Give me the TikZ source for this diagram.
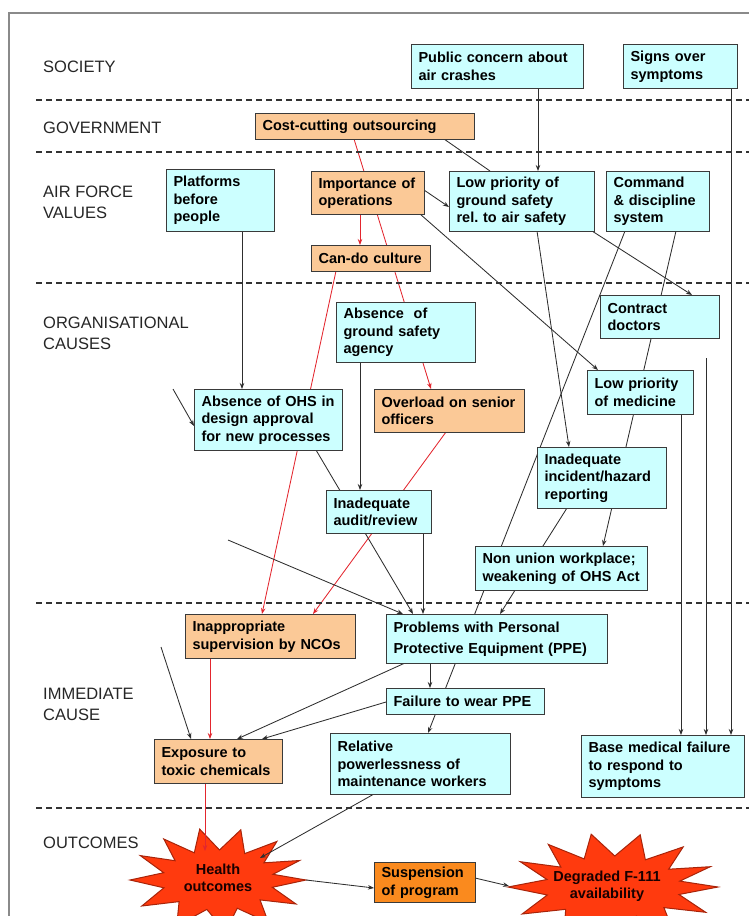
\documentclass[tikz,border=0pt]{standalone}
\usepackage{fontspec}
\setmainfont{Liberation Sans}
\usetikzlibrary{arrows.meta}

\definecolor{cyanfill}{HTML}{CCFFFF}
\definecolor{peach}{HTML}{FBC997}
\definecolor{susporange}{HTML}{FA8A1E}
\definecolor{burst}{HTML}{FF3A0E}
\definecolor{burstline}{HTML}{A8240A}
\definecolor{boxline}{HTML}{3A3A3A}
\definecolor{linkgray}{HTML}{2E2E2E}
\definecolor{linkred}{HTML}{E3262E}
\definecolor{framegray}{HTML}{8A8A8A}

\pgfdeclarelayer{back}
\pgfsetlayers{back,main}

\newcommand\fbfont{\fontsize{14.5}{17.5}\selectfont\bfseries}

% box from its top-left (#3,#4) to bottom-right (#5,#6) corner, in pixels
\newcommand\flowbox[7]{%
  \pgfmathsetmacro\fbw{#5-#3-14}%
  \pgfmathsetmacro\fbh{#6-#4}%
  \node[#2, text width=\fbw pt, minimum height=\fbh pt] (#1) at (#3,#4) {#7};}

\tikzset{
  cbox/.style={draw=boxline, line width=1.1pt, fill=cyanfill, anchor=north west,
    align=left, inner xsep=7pt, inner ysep=1pt, font=\fbfont},
  obox/.style={cbox, fill=peach},
  sbox/.style={cbox, fill=susporange},
  lanelabel/.style={anchor=west, align=left, inner sep=0pt,
    font=\fontsize{16.5}{21}\selectfont, text=black!85},
  sep/.style={draw=black!80, line width=1.3pt, dash pattern=on 6pt off 4pt},
  link/.style={draw=linkgray, line width=0.85pt, -{Stealth[length=6pt,width=4.5pt]}},
  plainlink/.style={draw=linkgray, line width=0.85pt},
  redlink/.style={link, draw=linkred},
  burstshape/.style={fill=burst, draw=burstline, line width=1pt, line join=miter},
  bursttext/.style={align=center, font=\fbfont, text=black!90!red, inner sep=1pt},
}

\begin{document}
\begin{tikzpicture}[x=1pt, y=-1pt]
\useasboundingbox (0,0) rectangle (749,916);
\clip (0,0) rectangle (749,916);

% outer frame
\draw[framegray, line width=1.6pt] (9,930) -- (9,13) -- (760,13);

% lane separators
\foreach \yy in {100,152,283,603,808}
  \draw[sep] (36,\yy) -- (749,\yy);

% lane labels
\node[lanelabel] (lsoc) at (43,67) {SOCIETY};
\node[lanelabel] (lgov) at (43,128) {GOVERNMENT};
\node[lanelabel] (laf) at (43,202) {AIR FORCE\\VALUES};
\node[lanelabel] (lorg) at (43,333) {ORGANISATIONAL\\CAUSES};
\node[lanelabel] (limm) at (43,704) {IMMEDIATE\\CAUSE};
\node[lanelabel] (lout) at (43,843) {OUTCOMES};

% boxes
\flowbox{public}{cbox}{411}{44}{583}{88}{Public concern about\\air crashes}
\flowbox{signs}{cbox}{623}{44}{737}{88}{Signs over\\symptoms}
\flowbox{cost}{obox}{255}{113}{474}{139}{Cost-cutting outsourcing}
\flowbox{platforms}{cbox}{166}{169}{274}{231}{Platforms\\before\\people}
\flowbox{importance}{obox}{311}{171}{424}{214}{Importance of\\operations}
\flowbox{lowgs}{cbox}{449}{171}{594}{231}{Low priority of\\ground safety\\rel.\ to air safety}
\flowbox{command}{cbox}{606}{171}{709}{231}{Command\\\& discipline\\system}
\flowbox{cando}{obox}{311}{245}{430}{271}{Can-do culture}
\flowbox{contract}{cbox}{600}{295}{719}{338}{Contract\\doctors}
\flowbox{agency}{cbox}{336}{302}{475}{362}{Absence\ \ of\\ground safety\\agency}
\flowbox{medicine}{cbox}{587}{370}{693}{414}{Low priority\\of medicine}
\flowbox{ohs}{cbox}{194}{389}{342}{450}{Absence of OHS in\\design approval\\for new processes}
\flowbox{overload}{obox}{374}{389}{524}{432}{Overload on senior\\officers}
\flowbox{incident}{cbox}{537}{447}{666}{508}{Inadequate\\incident/hazard\\reporting}
\flowbox{audit}{cbox}{326}{490}{431}{533}{Inadequate\\audit/review}
\flowbox{nonunion}{cbox}{475}{546}{647}{590}{Non union workplace;\\weakening of OHS Act}
\flowbox{inapp}{obox}{185}{614}{355}{658}{Inappropriate\\supervision by NCOs}
\flowbox{ppe}{cbox}{386}{614}{607}{663}{Problems with Personal\\[3pt]Protective Equipment (PPE)}
\flowbox{failure}{cbox}{386}{688}{544}{714}{Failure to wear PPE}
\flowbox{exposure}{obox}{154}{739}{282}{783}{Exposure to\\toxic chemicals}
\flowbox{relative}{cbox}{330}{733}{510}{794}{Relative\\powerlessness of\\maintenance workers}
\flowbox{base}{cbox}{581}{735}{744}{797}{Base medical failure\\to respond to\\symptoms}
\flowbox{suspension}{sbox}{374}{862}{475}{902}{Suspension\\of program}

% outcome labels (the bursts behind them are drawn on the back layer)
\node[bursttext] (health) at (218,878) {Health\\outcomes};
\node[bursttext] (degraded) at (607,886) {Degraded F-111\\availability};

% loose ends of incoming links
\coordinate (freeohs) at (173,389);
\coordinate (freeppe) at (228,540);
\coordinate (freebase) at (706,358);
\coordinate (freeexp) at (161,647);

\begin{pgfonlayer}{back}
% outcome bursts
\draw[burstshape] (306,880) -- (273,874.3) -- (299.6,860.5) -- (263.9,862.8) -- (276.9,841.4)
  -- (244.7,853.6) -- (240.8,829.8) -- (219.5,850) -- (199.7,829.1) -- (194.3,852.8)
  -- (163.8,839) -- (175.1,860.7) -- (140.3,855.6) -- (163.7,872.7) -- (130,880)
  -- (163.9,887.8) -- (141.8,906) -- (179.1,901.6) -- (176.7,925.9) -- (206.8,909.4)
  -- (225.7,931.8) -- (237.2,908.2) -- (268.5,922.6) -- (260,899.9) -- (296,904)
  -- (272.3,887.3) -- cycle;
\draw[burstshape] (718,887) -- (679.8,881.1) -- (710.3,866.7) -- (668.7,869.2) -- (683.2,846.9)
  -- (645.4,859.8) -- (640.2,834.8) -- (614.8,856) -- (591.2,834.2) -- (584.2,858.9)
  -- (548.3,844.4) -- (560.9,867.1) -- (520.3,861.7) -- (547,879.5) -- (508,887)
  -- (547.3,895) -- (522.1,914) -- (565.7,909.3) -- (563.8,934.7) -- (599.5,917.4)
  -- (622.1,940.8) -- (636.3,916.1) -- (673.3,931.2) -- (663.9,907.6) -- (705.7,912.3)
  -- (679,894.5) -- cycle;

% society and government
\draw[link] ([shift={(127,44)}]public.north west) -- ([shift={(89,0)}]lowgs.north west);
\draw[link] ([shift={(108,44)}]signs.north west) -- ([shift={(150,0)}]base.north west);
\draw[plainlink] ([shift={(189,26)}]cost.north west) -- ([shift={(41,0)}]lowgs.north west);
\draw[redlink] ([shift={(99,26)}]cost.north west) -- ([shift={(57,0)}]overload.north west);

% air force values
\draw[redlink] ([shift={(49,43)}]importance.north west) -- ([shift={(49,0)}]cando.north west);
\draw[link] ([shift={(113,19)}]importance.north west) -- ([shift={(0,36)}]lowgs.north west);
\draw[link] ([shift={(109,43)}]importance.north west) -- ([shift={(11,0)}]medicine.north west);
\draw[link] ([shift={(143,60)}]lowgs.north west) -- ([shift={(92,0)}]contract.north west);
\draw[link] ([shift={(88,60)}]lowgs.north west) -- ([shift={(32,0)}]incident.north west);
\draw[link] ([shift={(19,60)}]command.north west) -- ([shift={(98,0)}]relative.north west);
\draw[link] ([shift={(70,60)}]command.north west) -- ([shift={(128,0)}]nonunion.north west);
\draw[link] ([shift={(76,62)}]platforms.north west) -- ([shift={(48,0)}]ohs.north west);
\draw[redlink] ([shift={(25,26)}]cando.north west) -- ([shift={(77,0)}]inapp.north west);

% organisational causes
\draw[link] ([shift={(24,60)}]agency.north west) -- ([shift={(34,0)}]audit.north west);
\draw[link] (freeohs) -- ([shift={(0,37)}]ohs.north west);
\draw[redlink] ([shift={(72,43)}]overload.north west) -- ([shift={(128,0)}]inapp.north west);
\draw[link] ([shift={(122,61)}]ohs.north west) -- ([shift={(27,0)}]ppe.north west);
\draw[link] ([shift={(97,43)}]audit.north west) -- ([shift={(37,0)}]ppe.north west);
\draw[link] (freeppe) -- ([shift={(17,0)}]ppe.north west);
\draw[link] ([shift={(30,61)}]incident.north west) -- ([shift={(114,0)}]ppe.north west);
\draw[link] ([shift={(94,44)}]medicine.north west) -- ([shift={(100,0)}]base.north west);
\draw[link] (freebase) -- ([shift={(125,0)}]base.north west);

% immediate causes
\draw[redlink] ([shift={(25,44)}]inapp.north west) -- ([shift={(56,0)}]exposure.north west);
\draw[link] (freeexp) -- ([shift={(37,0)}]exposure.north west);
\draw[link] ([shift={(19,49)}]ppe.north west) -- ([shift={(83,0)}]exposure.north west);
\draw[link] ([shift={(0,14)}]failure.north west) -- ([shift={(108,0)}]exposure.north west);
\draw[link] ([shift={(44,49)}]ppe.north west) -- ([shift={(44,0)}]failure.north west);

% outcomes
\draw[redlink] ([shift={(51,44)}]exposure.north west) -- ([shift={(-13,-27)}]health.center);
\draw[link] ([shift={(44,61)}]relative.north west) -- ([shift={(42,-20)}]health.center);
\draw[link] ([shift={(88,2)}]health.center) -- ([shift={(0,26)}]suspension.north west);
\draw[link] ([shift={(101,16)}]suspension.north west) -- ([shift={(-98,0)}]degraded.center);
\end{pgfonlayer}
\end{tikzpicture}
\end{document}
